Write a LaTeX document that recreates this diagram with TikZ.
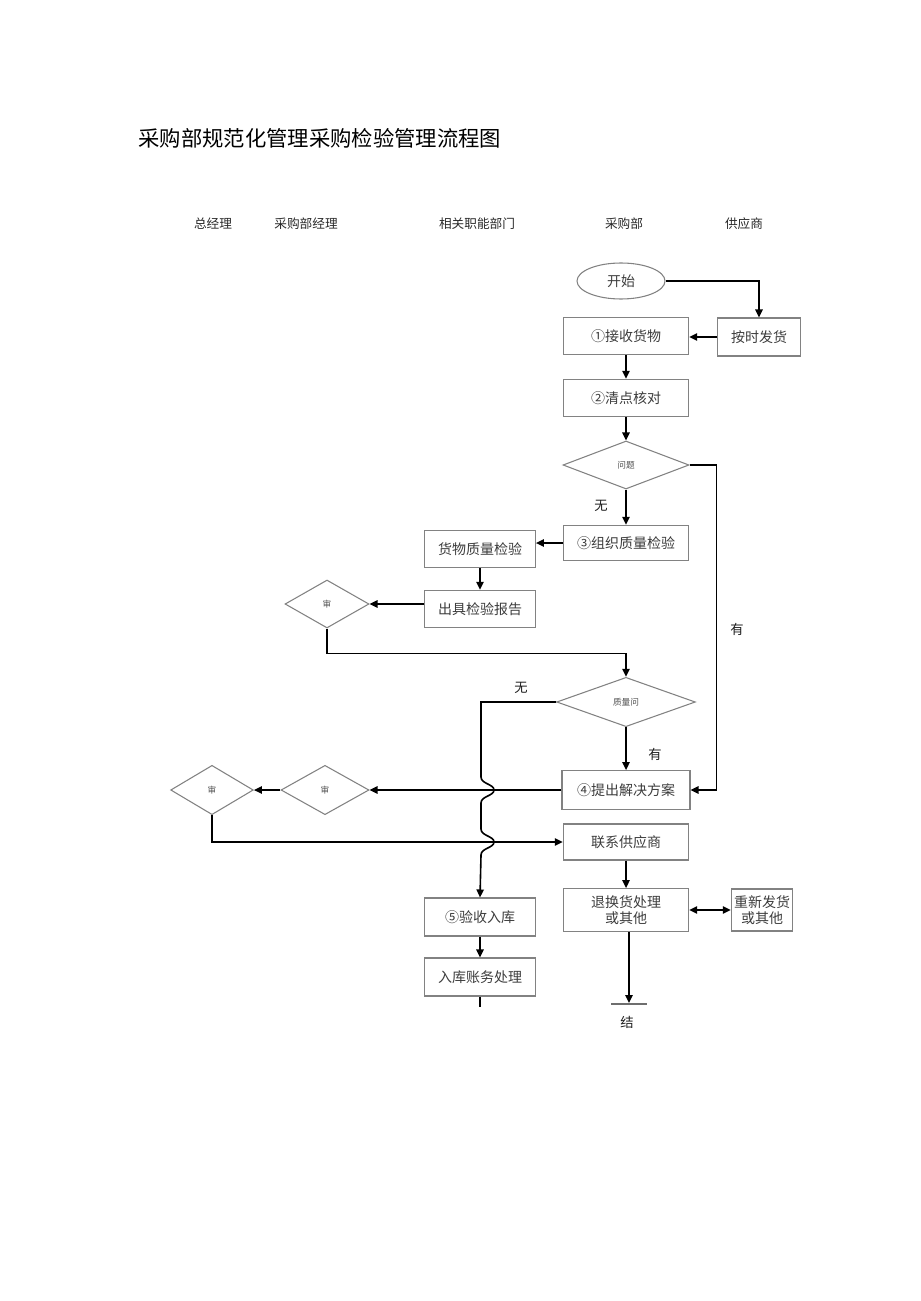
\documentclass[tikz,border=0pt]{standalone}
\usepackage{fontspec}
\setmainfont{Noto Sans CJK SC}
\usetikzlibrary{shapes.geometric,arrows.meta}

\tikzset{every picture/.style={line width=0.75pt}}
\tikzset{
box/.style={draw={rgb,255:red,130;green,130;blue,130},line width=0.8pt,rectangle,inner sep=0.75pt,text={rgb,255:red,60;green,60;blue,60},font=\fontsize{10.5}{12}\selectfont,align=center},
cond/.style={draw={rgb,255:red,130;green,130;blue,130},line width=0.8pt,diamond,inner sep=0pt,text={rgb,255:red,80;green,80;blue,80},font=\fontsize{6.5}{7}\selectfont},
lane/.style={inner sep=0.75pt,text={rgb,255:red,40;green,40;blue,40},font=\fontsize{9.5}{11}\selectfont},
tag/.style={inner sep=0.75pt,text={rgb,255:red,30;green,30;blue,30},font=\fontsize{10}{12}\selectfont},
flow/.style={draw=black,line width=1.2pt,-{Triangle[length=6pt,width=5.5pt]}},
plain/.style={draw=black,line width=1.2pt}}

\begin{document}
\begin{tikzpicture}[x=0.75pt,y=0.75pt,yscale=-1,xscale=1]
\useasboundingbox (0,0) rectangle (920,1301);

% Title
\node [anchor=west,inner sep=0pt,font=\fontsize{16}{18}\selectfont] (title) at (138,138) {采购部规范化管理采购检验管理流程图};

% Lane headers
\node [lane] (h1) at (213,224) {总经理};
\node [lane] (h2) at (306,224) {采购部经理};
\node [lane] (h3) at (477,224) {相关职能部门};
\node [lane] (h4) at (624,224) {采购部};
\node [lane] (h5) at (744,224) {供应商};

% Boxes
\node [box,ellipse,minimum width=66pt,minimum height=27pt] (start) at (621,281) {开始};
\node [box,minimum width=62pt,minimum height=28.5pt] (send) at (759,337) {按时发货};
\node [box,minimum width=94pt,minimum height=28pt] (recv) at (626,336) {①接收货物};
\node [box,minimum width=94pt,minimum height=28pt] (count) at (626,398) {②清点核对};
\node [cond,minimum width=94.5pt,minimum height=36pt] (q1) at (626,465) {问题};
\node [box,minimum width=94pt,minimum height=26.5pt] (org) at (626,543) {③组织质量检验};
\node [box,minimum width=83pt,minimum height=28pt] (check) at (480,549) {货物质量检验};
\node [box,minimum width=83pt,minimum height=28pt] (report) at (480,609) {出具检验报告};
\node [cond,minimum width=63pt,minimum height=36pt] (rev1) at (327,604) {审};
\node [cond,minimum width=104pt,minimum height=37pt] (q2) at (626,702) {质量问};
\node [box,minimum width=96pt,minimum height=29pt] (plan) at (626,790) {④提出解决方案};
\node [cond,minimum width=66pt,minimum height=37pt] (rev2) at (325,790) {审};
\node [cond,minimum width=62pt,minimum height=37pt] (rev3) at (212,790) {审};
\node [box,minimum width=94pt,minimum height=27pt] (contact) at (626,842) {联系供应商};
\node [box,minimum width=94pt,minimum height=32pt,font=\fontsize{10.5}{11.5}\selectfont] (ret) at (626,910) {退换货处理\\或其他};
\node [box,minimum width=46pt,minimum height=31.5pt,font=\fontsize{10.5}{11.5}\selectfont] (resend) at (762,910) {重新发货\\或其他};
\node [box,minimum width=83pt,minimum height=28.5pt] (in5) at (480,917) {⑤验收入库};
\node [box,minimum width=83pt,minimum height=28.5pt] (acct) at (480,977) {入库账务处理};
\node [tag] (fin) at (627,1022) {结};
\coordinate (end) at (629,1003);

% Labels
\node [tag] (no1) at (601,506) {无};
\node [tag] (yes1) at (737,629) {有};
\node [tag] (no2) at (521,688) {无};
\node [tag] (yes2) at (655,754) {有};

%Straight Lines
\draw [flow] (start.east) -| (send.north);
\draw [flow] (send.west) -- (send.west -| recv.east);
\draw [flow] (recv) -- (count);
\draw [flow] (count) -- (q1);
\draw [flow] (q1) -- (org);
\draw [flow] (q1.east) -- ++(27,0) |- (plan.east);
\draw [flow] (org.west) -- (org.west -| check.east);
\draw [flow] (check) -- (report);
\draw [flow] (report.west |- rev1.east) -- (rev1.east);
\draw [flow] (rev1.south) -- ++(0,25) -| (q2.north);
\draw [flow] (q2) -- (plan);
\draw [flow] (plan.west) -- (rev2.east);
\draw [flow] (rev2.west) -- (rev3.east);
\draw [flow] (rev3.south) |- (contact.west);
\draw [flow] (contact) -- (ret);
\draw [draw=black,line width=1.2pt,{Triangle[length=6pt,width=5.5pt]}-{Triangle[length=6pt,width=5.5pt]}] (ret.east) -- (resend.west);
\draw [flow] (ret.south -| end) -- (end);
\draw [draw={rgb,255:red,110;green,110;blue,110},line width=1pt] (611,1004) -- (647,1004);
\draw [flow] (in5) -- (acct);
\draw [plain] (acct.south) -- ++(0,10);

%Curve Lines (line jumps)
\draw [flow] (q2.west) -- (481,702) -- (481,777)
  .. controls (481,784) and (494,784) .. (494,790)
  .. controls (494,796) and (481,796) .. (481,803) -- (481,829)
  .. controls (481,836) and (494,836) .. (494,842)
  .. controls (494,848) and (481,848) .. (481,855) -- (in5.north);

\end{tikzpicture}
\end{document}
